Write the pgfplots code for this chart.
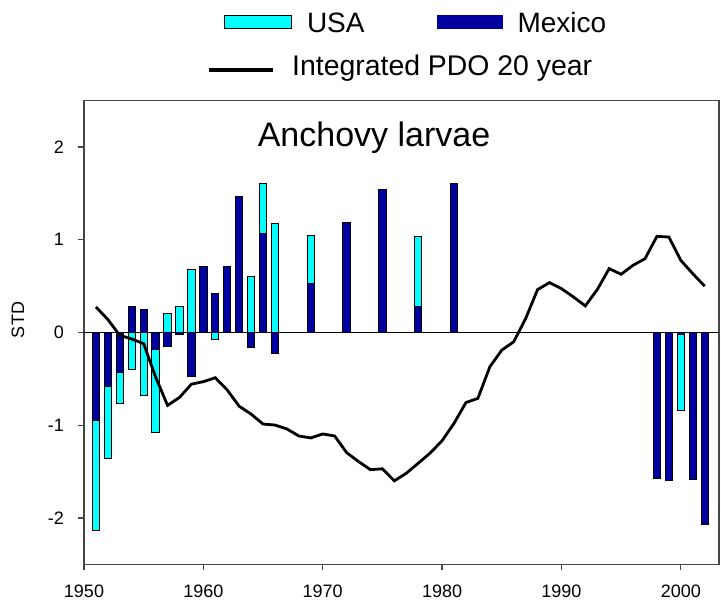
\documentclass[border=0pt]{standalone}
\usepackage{pgfplots}
\pgfplotsset{compat=1.18}
\usepackage{fontspec}
\setmainfont{Liberation Sans}
\definecolor{usacol}{RGB}{0,255,255}
\definecolor{mexcol}{RGB}{0,0,160}
\definecolor{axcol}{RGB}{70,70,70}

\pgfplotstableread{
year val
1951 -2.14
1952 -1.364
1953 -0.77
1954 -0.395
1955 -0.68
1956 -1.076
1957 0.205
1958 0.276
1959 0.68
1961 -0.075
1964 0.603
1965 1.604
1966 1.177
1969 1.048
1978 1.033
2000 -0.84
}\usadata

\pgfplotstableread{
year val
1951 -0.951
1952 -0.578
1953 -0.434
1954 0.28
1955 0.244
1956 -0.18
1957 -0.15
1958 -0.02
1959 -0.47
1960 0.707
1961 0.423
1962 0.707
1963 1.464
1964 -0.16
1965 1.073
1966 -0.23
1969 0.524
1972 1.188
1975 1.543
1978 0.276
1981 1.611
1998 -1.579
1999 -1.593
2000 -0.025
2001 -1.59
2002 -2.067
}\mexdata

\pgfplotstableread{
year val
1951 0.276
1952 0.14
1953 -0.03
1954 -0.07
1955 -0.12
1956 -0.48
1957 -0.786
1958 -0.70
1959 -0.557
1960 -0.53
1961 -0.488
1962 -0.62
1963 -0.795
1964 -0.88
1965 -0.987
1966 -0.998
1967 -1.04
1968 -1.116
1969 -1.137
1970 -1.094
1971 -1.116
1972 -1.295
1973 -1.392
1974 -1.479
1975 -1.47
1976 -1.60
1977 -1.518
1978 -1.41
1979 -1.30
1980 -1.167
1981 -0.98
1982 -0.755
1983 -0.71
1984 -0.37
1985 -0.19
1986 -0.10
1987 0.15
1988 0.463
1989 0.538
1990 0.473
1991 0.384
1992 0.287
1993 0.463
1994 0.689
1995 0.628
1996 0.725
1997 0.796
1998 1.037
1999 1.03
2000 0.778
2001 0.635
2002 0.50
}\pdodata

\begin{document}
\begin{tikzpicture}
\useasboundingbox (-42pt,-18.85pt) rectangle (318.5pt,282.15pt);
\begin{axis}[
  at={(0,0)}, anchor=south west,
  scale only axis, width=317.5pt, height=231.8pt,
  xmin=1950, xmax=2003.2, ymin=-2.5, ymax=2.5,
  xtick={1950,1960,1970,1980,1990,2000},
  ytick={-2,-1,0,1,2},
  tick align=outside, major tick length=3pt,
  xtick pos=bottom, ytick pos=left,
  axis line style={axcol, line width=0.75pt},
  tick style={axcol, line width=0.6pt},
  /pgf/number format/assume math mode=true,
  /pgf/number format/1000 sep={},
  ticklabel style={font=\fontsize{9}{10}\selectfont},
  xticklabel style={yshift=-4pt},
  yticklabel style={xshift=-3.5pt},
  ylabel={STD},
  ylabel style={at={(axis description cs:-0.104,0.527)}, anchor=center, font=\fontsize{9}{11}\selectfont},
  legend columns=2,
  legend style={at={(axis description cs:0.2205,1.1625)}, anchor=west,
    draw=none, fill=none, inner sep=0pt, outer sep=0pt,
    font=\fontsize{14}{17}\selectfont,
    nodes={inner sep=0pt, outer sep=0pt, text height=10pt, text depth=3pt},
    /tikz/every odd column/.append style={column sep=7.5pt},
    /tikz/every even column/.append style={column sep=36pt}},
]
\addplot[ybar, bar width=0.61, bar shift=0pt, fill=usacol, draw=black, line width=0.5pt,
  legend image code/.code={\draw[fill=usacol, draw=black, line width=0.5pt] (0pt,-1.6pt) rectangle (33.5pt,5.0pt);}]
  table[x=year, y=val] {\usadata};
\addlegendentry{USA}
\addplot[ybar, bar width=0.61, bar shift=0pt, fill=mexcol, draw=black, line width=0.5pt,
  legend image code/.code={\draw[fill=mexcol, draw=mexcol, line width=0.5pt] (0pt,-1.6pt) rectangle (32.5pt,5.0pt);}]
  table[x=year, y=val] {\mexdata};
\addlegendentry{Mexico}
\addplot[black, line width=0.6pt] coordinates {(1950,0) (2003.2,0)};
\addplot[black, line width=1.4pt, line join=miter] table[x=year, y=val] {\pdodata};
\node[anchor=base, font=\fontsize{17}{20}\selectfont] at (axis description cs:0.4567,0.9008) {Anchovy larvae};
\end{axis}
\begin{axis}[
  at={(0,0)}, anchor=south west,
  scale only axis, width=317.5pt, height=231.8pt,
  hide axis, xmin=0, xmax=1, ymin=0, ymax=1,
  legend style={at={(axis description cs:0.1937,1.0684)}, anchor=west,
    draw=none, fill=none, inner sep=0pt, outer sep=0pt,
    font=\fontsize{14.2}{17}\selectfont,
    nodes={inner sep=0pt, outer sep=0pt, text height=10pt, text depth=3pt},
    /tikz/every odd column/.append style={column sep=9pt}},
]
\addlegendimage{black, line width=1.6pt, legend image code/.code={\draw[black, line width=1.6pt] (0pt,-0.5pt) -- (32pt,-0.5pt);}}
\addlegendentry{Integrated PDO 20 year}
\end{axis}
\end{tikzpicture}
\end{document}
